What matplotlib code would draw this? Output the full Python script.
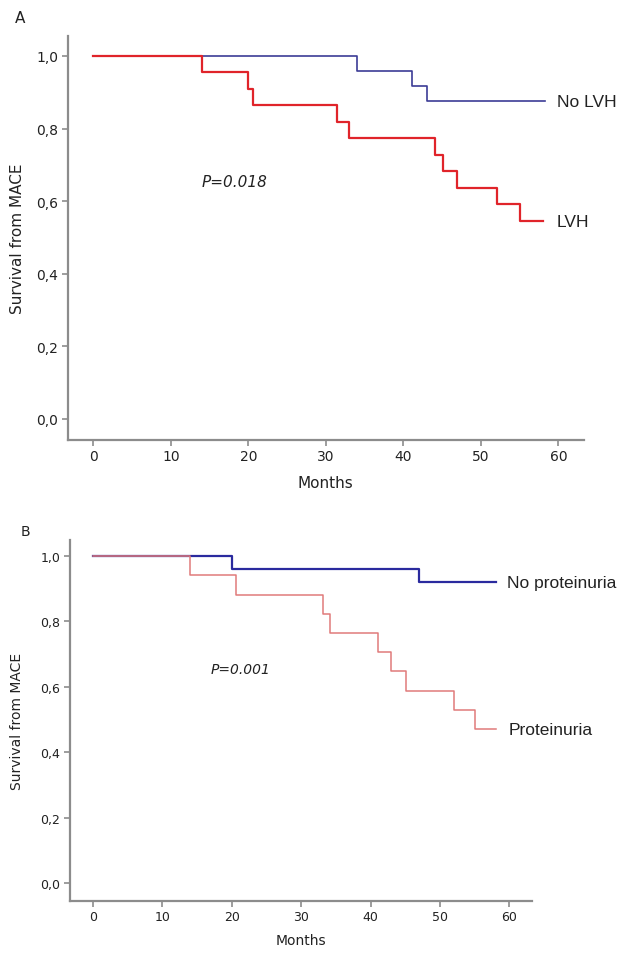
import matplotlib
matplotlib.use("Agg")
import matplotlib.pyplot as plt

# panel A: LVH vs no LVH (months, survival from MACE)
lvh_t = [0, 14.0, 19.9, 20.6, 31.4, 33.0, 44.1, 45.1, 46.9, 52.1, 55.1]
lvh_s = [1.0, 0.955, 0.909, 0.864, 0.818, 0.773, 0.727, 0.682, 0.636, 0.591, 0.545]
lvh_end = 58.0
nolvh_t = [0, 34.0, 41.1, 43.1]
nolvh_s = [1.0, 0.958, 0.917, 0.875]
nolvh_end = 58.3

# panel B: proteinuria vs no proteinuria
prot_t = [0, 14.0, 20.6, 33.1, 34.2, 41.1, 43.0, 45.1, 52.0, 55.1]
prot_s = [1.0, 0.941, 0.882, 0.824, 0.765, 0.706, 0.647, 0.588, 0.529, 0.471]
prot_end = 58.1
noprot_t = [0, 20.1, 47.0]
noprot_s = [1.0, 0.96, 0.92]
noprot_end = 58.1

x_ticks = [0, 10, 20, 30, 40, 50, 60]
y_ticks = [0.0, 0.2, 0.4, 0.6, 0.8, 1.0]
y_ticklabels = ['0,0', '0,2', '0,4', '0,6', '0,8', '1,0']

axis_grey = '#8c8c8c'
text_col = '#222222'


def km_step(ax, t, s, t_end, **kw):
    ax.step(list(t) + [t_end], list(s) + [s[-1]], where='post', **kw)


def style_axes(ax, ylim, tick_fs, label_fs, xpad, ypad):
    for side in ('top', 'right'):
        ax.spines[side].set_visible(False)
    for side in ('left', 'bottom'):
        ax.spines[side].set_color(axis_grey)
        ax.spines[side].set_linewidth(1.6)
    ax.set_xlim(-3.3, 63.3)
    ax.set_ylim(*ylim)
    ax.set_xticks(x_ticks)
    ax.set_yticks(y_ticks)
    ax.set_yticklabels(y_ticklabels)
    ax.tick_params(colors=axis_grey, length=4, width=1.2, labelsize=tick_fs,
                   labelcolor=text_col, pad=3)
    ax.set_xlabel('Months', fontsize=label_fs, color=text_col, labelpad=xpad,
                  fontweight='medium')
    ax.set_ylabel('Survival from MACE', fontsize=label_fs, color=text_col,
                  labelpad=ypad, fontweight='medium')


fig = plt.figure(figsize=(6.31, 9.70), dpi=100)

ax_a = fig.add_axes([0.1073, 0.5457, 0.8182, 0.4162])
km_step(ax_a, nolvh_t, nolvh_s, nolvh_end, color='#3c3c96', lw=1.2)
km_step(ax_a, lvh_t, lvh_s, lvh_end, color='#e0242a', lw=1.6)
style_axes(ax_a, (-0.057, 1.055), 10, 11, 8, 8)
ax_a.text(59.8, nolvh_s[-1], 'No LVH', fontsize=12.5, color=text_col,
          va='center', ha='left', family='Liberation Sans')
ax_a.text(59.8, lvh_s[-1], 'LVH', fontsize=12.5, color=text_col,
          va='center', ha='left', family='Liberation Sans')
ax_a.text(14.0, 0.653, 'P=0.018', fontsize=11, style='italic', color=text_col,
          va='center', ha='left')
fig.text(0.032, 0.981, 'A', fontsize=11, color=text_col, va='center', ha='center')

ax_b = fig.add_axes([0.1109, 0.0704, 0.7327, 0.3719])
km_step(ax_b, noprot_t, noprot_s, noprot_end, color='#2a2a9e', lw=1.6)
km_step(ax_b, prot_t, prot_s, prot_end, color='#e07a7a', lw=1.1)
style_axes(ax_b, (-0.054, 1.049), 9, 10, 7, 12)
ax_b.text(59.7, noprot_s[-1], 'No proteinuria', fontsize=12.5, color=text_col,
          va='center', ha='left', family='Liberation Sans')
ax_b.text(59.9, prot_s[-1], 'Proteinuria', fontsize=12.5, color=text_col,
          va='center', ha='left', family='Liberation Sans')
ax_b.text(16.9, 0.654, 'P=0.001', fontsize=10, style='italic', color=text_col,
          va='center', ha='left')
fig.text(0.041, 0.4515, 'B', fontsize=10, color=text_col, va='center', ha='center')

fig.savefig('out.png', dpi=100)
